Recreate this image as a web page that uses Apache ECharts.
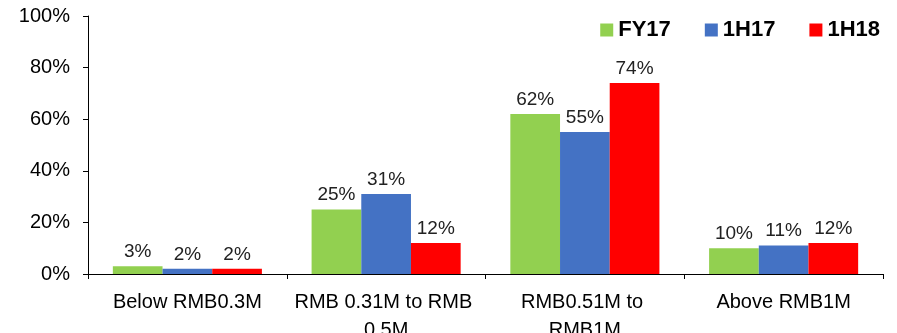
<!DOCTYPE html>
<html>
<head>
<meta charset="utf-8">
<script src="https://cdn.jsdelivr.net/npm/echarts@6/dist/echarts.min.js"></script>
<style>
html, body { margin: 0; padding: 0; background: #fff; }
#main { width: 897px; height: 333px; }
</style>
</head>
<body>
<div id="main"></div>
<script>
var categories = ['Below RMB0.3M', 'RMB 0.31M to RMB 0.5M', 'RMB0.51M to RMB1M', 'Above RMB1M'];
var fy17 = [3, 25, 62, 10];
var h117 = [2, 31, 55, 11];
var h118 = [2, 12, 74, 12];

var myChart = echarts.init(document.getElementById('main'));

function barSeries(name, data, color) {
    return {
        name: name,
        type: 'bar',
        data: data,
        barGap: '0%',
        barCategoryGap: '25%',
        itemStyle: { color: color },
        label: {
            show: true,
            position: 'top',
            distance: 5,
            formatter: '{c}%',
            color: '#222',
            fontSize: 19,
            fontFamily: 'Liberation Sans'
        }
    };
}

var option = {
    backgroundColor: '#fff',
    animation: false,
    legend: {
        right: 12,
        top: 14,
        itemWidth: 13,
        itemHeight: 13,
        itemGap: 34,
        icon: 'rect',
        textStyle: {
            color: '#000',
            fontSize: 22,
            fontWeight: 'bold',
            fontFamily: 'Liberation Sans'
        }
    },
    grid: {
        left: 88,
        right: 14,
        top: 16,
        bottom: 59,
        containLabel: false,
        outerBoundsMode: 'none'
    },
    xAxis: {
        type: 'category',
        data: categories,
        axisLine: { lineStyle: { color: '#000', width: 1 } },
        axisTick: { show: true, length: 5, lineStyle: { color: '#000' } },
        axisLabel: {
            color: '#000',
            fontSize: 20,
            fontFamily: 'Liberation Sans',
            margin: 14,
            lineHeight: 28,
            width: 188,
            overflow: 'break',
            interval: 0
        }
    },
    yAxis: {
        type: 'value',
        min: 0,
        max: 100,
        interval: 20,
        axisLine: { show: true, lineStyle: { color: '#000', width: 1 } },
        axisTick: { show: true, length: 5, lineStyle: { color: '#000' } },
        splitLine: { show: false },
        axisLabel: {
            formatter: '{value}%',
            color: '#000',
            fontSize: 20,
            fontFamily: 'Liberation Sans',
            margin: 18
        }
    },
    series: [
        barSeries('FY17', fy17, '#92D050'),
        barSeries('1H17', h117, '#4472C4'),
        barSeries('1H18', h118, '#FF0000')
    ]
};
myChart.setOption(option);
</script>
</body>
</html>
